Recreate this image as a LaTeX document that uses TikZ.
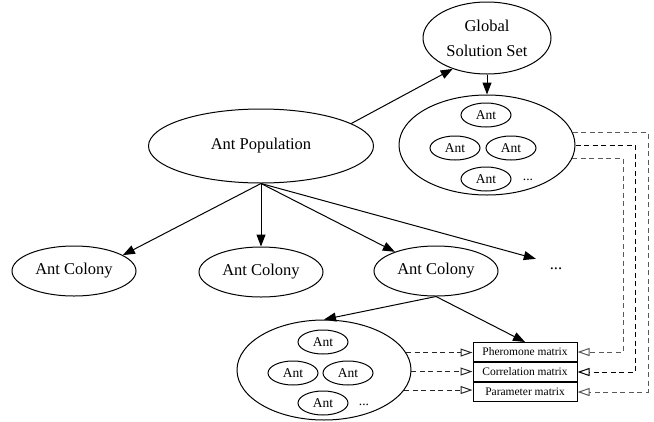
\documentclass[tikz,border=0pt]{standalone}
\usepackage{fontspec}
\setmainfont{Liberation Serif}
\usetikzlibrary{shapes.geometric,arrows.meta}
\tikzset{
  ell/.style={draw, ellipse, inner sep=0pt, line width=1pt},
  big/.style={font=\fontsize{16.5}{25}\selectfont},
  colony/.style={ell, big, minimum width=124pt, minimum height=50pt},
  ant/.style={ell, minimum width=50pt, minimum height=24pt, font=\fontsize{13.5}{16}\selectfont},
  smalldots/.style={font=\fontsize{13.5}{16}\selectfont, inner sep=0pt},
  mat/.style={draw, rectangle, line width=1pt, minimum width=104pt, minimum height=19pt, inner sep=0pt, font=\fontsize{11.5}{13}\selectfont},
  arr/.style={-{Triangle[length=12pt,width=9pt]}, line width=1pt},
  darr/.style={-{Triangle[open,length=12pt,width=8pt]}, dash pattern=on 5pt off 3.5pt, line width=1pt},
}
\begin{document}
\begin{tikzpicture}[x=1pt,y=-1pt]
\useasboundingbox (0,0) rectangle (654,421);
% main nodes
\node[ell, big, minimum width=128pt, minimum height=72pt, align=center] (gss) at (487,38) {Global\\Solution Set};
\node[ell, minimum width=176pt, minimum height=100pt] (topc) at (487,145) {};
\node[ant] (ta1) at (486,115) {Ant};
\node[ant] (ta2) at (455,148) {Ant};
\node[ant] (ta3) at (511,148) {Ant};
\node[ant] (ta4) at (486,179) {Ant};
\node[smalldots] (tdots) at (528,180) {...};
\node[ell, big, minimum width=225pt, minimum height=74pt] (pop) at (261,146) {Ant Population};
\node[colony] (col1) at (74,271) {Ant Colony};
\node[colony] (col2) at (261,272) {Ant Colony};
\node[colony] (col3) at (436,271) {Ant Colony};
\node[big, minimum width=40pt, minimum height=20pt, inner sep=0pt] (dots) at (556,269) {...};
\node[ell, minimum width=174pt, minimum height=100pt] (botc) at (324,370) {};
\node[ant] (ba1) at (323,342) {Ant};
\node[ant] (ba2) at (293,373) {Ant};
\node[ant] (ba3) at (348,373) {Ant};
\node[ant] (ba4) at (323,403) {Ant};
\node[smalldots] (bdots) at (364,405) {...};
\node[mat] (pm) at (525,352) {Pheromone matrix};
\node[mat, anchor=north] (cm) at (pm.south) {Correlation matrix};
\node[mat, anchor=north] (parm) at (cm.south) {Parameter matrix};
% routing columns
\coordinate (r1) at (623,0);
\coordinate (r2) at (635,0);
\coordinate (r3) at (648,0);
% solid arrows
\draw[arr] (pop.14) -- (gss.222);
\draw[arr] (gss.south) -- (topc.north);
\draw[arr] (pop.south) -- (col1.18);
\draw[arr] (pop.south) -- (col2.north);
\draw[arr] (pop.south) -- (col3.155);
\draw[arr] (pop.south) -- (dots.north west);
\draw[arr] (col3.south) -- (botc.north);
\draw[arr] (col3.south) -- (pm.north);
% dashed arrows bottom ellipse -> matrices
\draw[darr, black!85] (botc.12.1) -- (botc.12.1 -| pm.west);
\draw[darr, black!85] (botc.-1) -- (botc.-1 -| cm.west);
\draw[darr, black!85] (botc.-14.5) -- (botc.-14.5 -| parm.west);
% dashed arrows top ellipse -> matrices
\draw[darr, black!65] (topc.8) -- (topc.8 -| r3) -- (parm.east -| r3) -- (parm.east);
\draw[darr, black] (topc.-0.7) -- (topc.-0.7 -| r2) -- (cm.east -| r2) -- (cm.east);
\draw[darr, black!65] (topc.-9.4) -- (topc.-9.4 -| r1) -- (pm.east -| r1) -- (pm.east);
\end{tikzpicture}
\end{document}
